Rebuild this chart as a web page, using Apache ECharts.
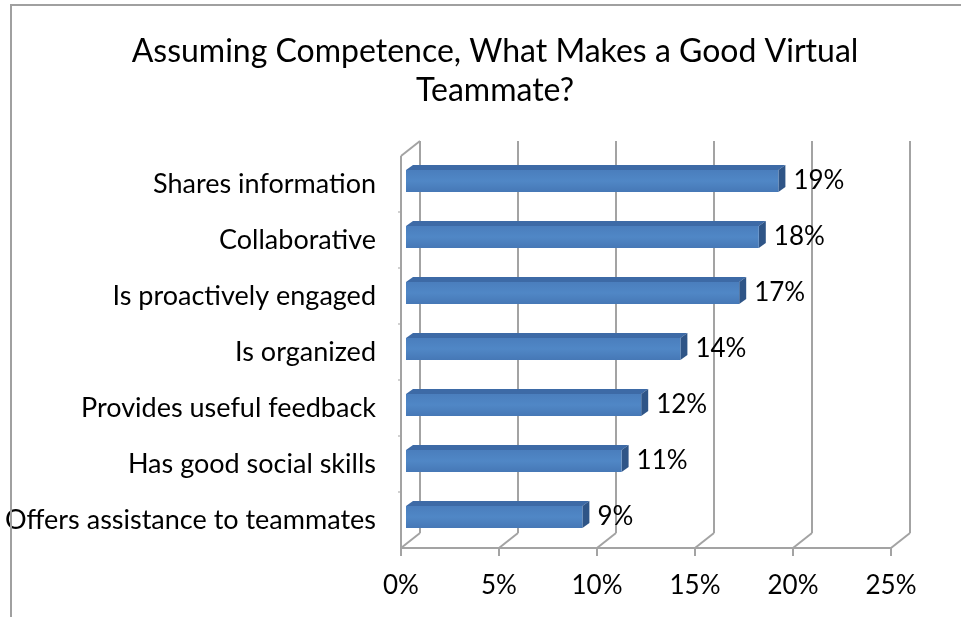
<!DOCTYPE html>
<html>
<head>
<meta charset="utf-8">
<script src="https://cdn.jsdelivr.net/npm/echarts@6/dist/echarts.min.js"></script>
<style>
  html, body { margin: 0; padding: 0; background: #fff; }
  #chart { width: 961px; height: 617px; }
</style>
</head>
<body>
<div id="chart"></div>
<script>
// Survey results: traits of a good virtual teammate (share of responses, %)
const categories = [
  'Shares information',
  'Collaborative',
  'Is proactively engaged',
  'Is organized',
  'Provides useful feedback',
  'Has good social skills',
  'Offers assistance to teammates'
];
const values = [19, 18, 17, 14, 12, 11, 9];
const tickValues = [0, 5, 10, 15, 20, 25];

const FONT = 'Lato, "Open Sans", sans-serif';
const LINE = '#a3a3a3';
// oblique depth of the chart floor / walls
const DEPTH_X = 19, DEPTH_Y = -15;

const chart = echarts.init(document.getElementById('chart'), null, { renderer: 'canvas' });

// 3D-looking frame: floor, left wall and back gridlines
function renderFrame(params, api) {
  const v = api.value(0);
  const cs = params.coordSys;
  const x = api.coord([v, 0])[0];
  const floorY = cs.y + cs.height;
  const topY = cs.y;
  const style = { stroke: LINE, lineWidth: 2, fill: null };
  const kids = [
    { type: 'line', shape: { x1: x + DEPTH_X, y1: floorY + DEPTH_Y, x2: x + DEPTH_X, y2: topY + DEPTH_Y }, style },
    { type: 'line', shape: { x1: x, y1: floorY, x2: x + DEPTH_X, y2: floorY + DEPTH_Y }, style },
    { type: 'line', shape: { x1: x, y1: floorY, x2: x, y2: floorY + 8 }, style }
  ];
  if (params.dataIndex === 0) {
    kids.push({ type: 'line', shape: { x1: x, y1: floorY, x2: cs.x + cs.width, y2: floorY }, style });
    kids.push({ type: 'line', shape: { x1: x, y1: floorY, x2: x, y2: topY }, style });
    kids.push({ type: 'line', shape: { x1: x, y1: topY, x2: x + DEPTH_X, y2: topY + DEPTH_Y }, style });
    const band = cs.height / categories.length;
    for (let i = 1; i < categories.length; i++) {
      const yy = topY + band * i;
      kids.push({ type: 'line', shape: { x1: x - 3, y1: yy, x2: x, y2: yy }, style: { stroke: LINE, lineWidth: 1 } });
    }
  }
  return { type: 'group', children: kids };
}

// 3D bars: front face, top face, right side face and value label
function renderBar(params, api) {
  const idx = api.value(0);
  const val = api.value(1);
  const p0 = api.coord([0, idx]);
  const p1 = api.coord([val, idx]);
  const band = api.size([0, 1])[1];
  const h = band * 0.39;
  const ox = 5, oy = -3;       // bar plane offset inside the depth
  const dx = 7, dy = -5;       // bar thickness
  const x0 = p0[0] + ox, x1 = p1[0] + ox;
  const yc = p0[1] + oy;
  const yT = yc - h / 2, yB = yc + h / 2;
  return {
    type: 'group',
    children: [
      {
        type: 'polygon',
        shape: { points: [[x0, yT], [x0 + dx, yT + dy], [x1 + dx, yT + dy], [x1, yT]] },
        style: { fill: '#3d6aa6' }
      },
      {
        type: 'polygon',
        shape: { points: [[x1, yT], [x1 + dx, yT + dy], [x1 + dx, yB + dy], [x1, yB]] },
        style: { fill: '#2f5587' }
      },
      {
        type: 'rect',
        shape: { x: x0, y: yT, width: x1 - x0, height: h },
        style: {
          fill: new echarts.graphic.LinearGradient(0, 0, 0, 1, [
            { offset: 0, color: '#4a7ebd' },
            { offset: 0.5, color: '#5087c6' },
            { offset: 1, color: '#4678b6' }
          ])
        }
      },
      {
        type: 'text',
        x: x1 + dx + 8,
        y: yc,
        style: {
          text: val + '%',
          fill: '#000',
          font: '26px ' + FONT,
          textAlign: 'left',
          textVerticalAlign: 'middle'
        }
      }
    ]
  };
}

chart.setOption({
  animation: false,
  backgroundColor: '#fff',
  title: {
    text: 'Assuming Competence, What Makes a Good Virtual\nTeammate?',
    left: 490,
    top: 27,
    textAlign: 'center',
    textStyle: { fontFamily: FONT, fontSize: 32, fontWeight: 'normal', color: '#000', lineHeight: 39 }
  },
  graphic: [{
    type: 'rect',
    shape: { x: 11, y: 5, width: 1000, height: 1000 },
    style: { fill: null, stroke: '#a0a0a0', lineWidth: 2 },
    z: 10
  }],
  grid: { left: 401, right: 70, top: 156, bottom: 69, containLabel: false },
  xAxis: {
    type: 'value',
    min: 0,
    max: 25,
    interval: 5,
    axisLine: { show: false },
    axisTick: { show: false },
    splitLine: { show: false },
    axisLabel: { formatter: '{value}%', fontFamily: FONT, fontSize: 26, color: '#000', margin: 25 }
  },
  yAxis: {
    type: 'category',
    data: categories,
    inverse: true,
    axisLine: { show: false },
    axisTick: { show: false },
    splitLine: { show: false },
    axisLabel: { fontFamily: FONT, fontSize: 27, color: '#000', margin: 25 }
  },
  series: [
    {
      type: 'custom',
      renderItem: renderFrame,
      data: tickValues.map(v => [v, 0]),
      encode: { x: 0, y: 1 },
      silent: true,
      z: 1
    },
    {
      type: 'custom',
      renderItem: renderBar,
      data: values.map((v, i) => [i, v]),
      encode: { x: 1, y: 0 },
      silent: true,
      z: 2
    }
  ]
});
</script>
</body>
</html>
